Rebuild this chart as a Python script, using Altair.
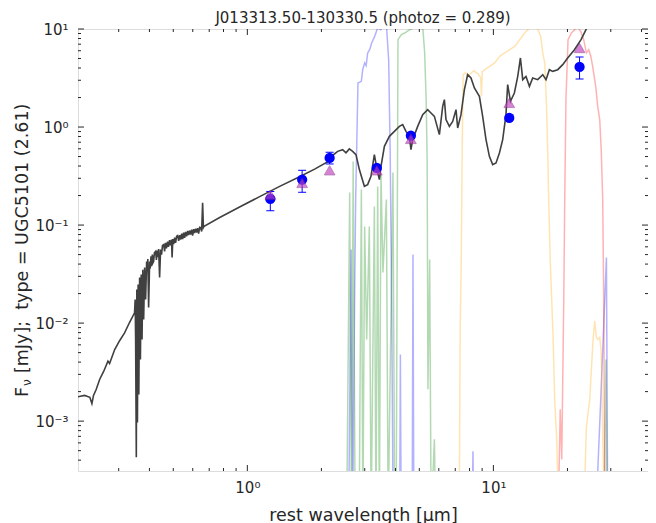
import altair as alt
import pandas as pd

# ---------------- data ----------------
title_text = "J013313.50-130330.5 (photoz = 0.289)"
x_title = "rest wavelength [μm]"
y_title_parts = ["F", "ν", "[mJy];\u00a0 type = UGC5101 (2.61)"]

# SED model template (wavelength in micron, flux in mJy)
sed_wave = [0.204, 0.218, 0.229, 0.2335, 0.237, 0.243, 0.251, 0.2606, 0.2713, 0.2755,
            0.289, 0.303, 0.317, 0.332, 0.348,
            0.35, 0.3515, 0.3538, 0.3555, 0.3575, 0.3598, 0.3622, 0.3649, 0.3676, 0.3704,
            0.3733, 0.3761, 0.379, 0.3825, 0.386, 0.3897, 0.392, 0.394, 0.397, 0.4008,
            0.403, 0.406, 0.4083, 0.411, 0.413, 0.416, 0.419, 0.4237, 0.427, 0.43,
            0.433, 0.436, 0.44, 0.444, 0.448, 0.452, 0.457, 0.461, 0.465, 0.469,
            0.474, 0.478, 0.483, 0.487, 0.492, 0.4945, 0.498, 0.502, 0.5064, 0.511,
            0.516, 0.5208, 0.526, 0.531, 0.5357, 0.541, 0.546, 0.551, 0.556, 0.561,
            0.5665, 0.572, 0.577, 0.5826, 0.588, 0.594, 0.5992, 0.605, 0.61, 0.6163,
            0.622, 0.628, 0.6339, 0.64, 0.6457, 0.652, 0.658, 0.6629, 0.6673,
            0.772, 0.930, 1.122, 1.353, 1.63, 1.877, 2.161, 2.243,
            2.328, 2.440, 2.517, 2.598, 2.679, 2.764, 2.853, 2.99, 3.083, 3.18,
            3.283, 3.365, 3.441, 3.493, 3.606, 3.778, 3.96, 4.149, 4.279, 4.413,
            4.555, 4.624, 4.698, 4.924, 5.16, 5.407, 5.577, 5.757, 6.033, 6.222,
            6.322, 6.417, 6.624, 6.834, 7.047, 7.16, 7.384, 7.623, 7.862, 8.109,
            8.372, 8.772, 9.046, 9.333, 9.632, 9.935, 10.25, 10.58, 10.91, 11.25,
            11.43, 11.73, 12.17, 12.56, 12.88, 13.16, 13.57, 14.01, 14.45, 15.14,
            15.87, 16.36, 16.89, 17.42, 18.26, 19.13, 20.04, 21.35, 22.71, 23.79, 25.1]
sed_flux = [0.00177, 0.00183, 0.00175, 0.00151, 0.00183, 0.0021, 0.00266, 0.00321, 0.00409, 0.00387,
            0.00538, 0.00665, 0.00796, 0.01014, 0.01274,
            0.0174, 0.0068, 0.000427, 0.022, 0.00097, 0.0248, 0.00187, 0.0292, 0.00426, 0.0313,
            0.0068, 0.0351, 0.0109, 0.0368, 0.0174, 0.0425, 0.033, 0.045, 0.0144, 0.0425,
            0.036, 0.048, 0.038, 0.05, 0.041, 0.0425, 0.052, 0.0537, 0.044, 0.055,
            0.047, 0.057, 0.0292, 0.0562, 0.05, 0.062, 0.0632, 0.054, 0.066, 0.058,
            0.0679, 0.06, 0.07, 0.062, 0.0711, 0.0467, 0.072, 0.064, 0.0746, 0.066,
            0.077, 0.0782, 0.069, 0.079, 0.0711, 0.082, 0.072, 0.0839, 0.074, 0.085,
            0.0766, 0.087, 0.079, 0.0879, 0.08, 0.09, 0.0782, 0.091, 0.083, 0.0921,
            0.084, 0.093, 0.0819, 0.095, 0.0943, 0.086, 0.1684, 0.0943, 0.0973,
            0.1193, 0.1526, 0.1952, 0.248, 0.3108, 0.3722, 0.4545, 0.523,
            0.565, 0.588, 0.545, 0.598, 0.565, 0.523, 0.368, 0.2486, 0.2587, 0.3144,
            0.523, 0.368, 0.291, 0.3975, 0.6356, 0.804, 0.904, 1.016, 1.058, 0.904,
            0.804, 0.588, 0.744, 1.016, 1.338, 1.504, 1.392, 1.286, 0.8366, 1.626,
            1.903, 1.19, 1.016, 1.143, 1.504, 0.979, 1.338, 2.406, 3.42, 3.166,
            2.504, 2.056, 1.286, 0.744, 0.503, 0.4137, 0.4306, 0.5445, 0.744, 1.338,
            2.705, 1.828, 2.226, 3.287, 5.063, 3.043, 3.287, 2.6, 3.166, 3.043,
            3.42, 3.043, 3.846, 3.698, 3.846, 4.326, 5.063, 6.152, 7.781, 9.838, 13.04]

# photometry (blue circles with error bars) and model photometry (triangles)
phot_wave = [1.24, 1.67, 2.16, 3.36, 4.62, 11.6, 22.4]
phot_flux = [0.185, 0.291, 0.484, 0.383, 0.817, 1.24, 4.1]
phot_lo = [0.14, 0.216, 0.42, 0.365, 0.79, 1.2, 3.09]
phot_hi = [0.22, 0.362, 0.553, 0.40, 0.845, 1.28, 5.18]
model_flux = [0.2046, 0.269, 0.362, 0.362, 0.756, 1.761, 6.40]

# filter transmission curves (scaled), values below the axis are 1e-4
w1_wave = [2.581, 2.642, 2.679, 2.731, 2.756, 2.816, 2.907, 2.943, 2.998, 3.04, 3.083, 3.141,
           3.201, 3.292, 3.386, 3.483, 3.582, 3.684, 3.753, 3.806, 3.86, 3.914, 4.159, 4.188,
           4.219, 4.677, 4.712, 4.751, 8.2, 8.26, 8.318, 26.06, 27.31, 28.8, 29.15]
w1_flux = [1e-4, 0.0562, 1e-4, 0.022, 0.182, 2.816, 2.924, 3.846, 4.503, 4.226, 5.692, 6.152,
           7.199, 8.406, 10.31, 9.838, 10.8, 10.07, 4.864, 0.588, 0.0174, 1e-4, 1e-4, 0.00479,
           1e-4, 1e-4, 0.05, 1e-4, 1e-4, 0.000494, 1e-4, 1e-4, 0.00166, 0.0467, 1e-4]
w2_wave = [2.534, 2.606, 2.650, 2.692, 2.743, 2.848, 2.907, 2.948, 2.998, 3.055, 3.132, 3.186,
           3.283, 3.333, 3.386, 3.441, 3.493, 3.558, 3.673, 3.736, 3.907, 3.97, 4.026, 4.095,
           4.227, 4.36, 4.569, 4.787, 5.016, 5.173, 5.256, 5.33, 5.38, 5.42, 5.508, 5.586,
           5.757, 5.827, 28.08, 28.69, 29.02]
w2_flux = [1e-4, 0.2145, 1e-4, 0.444, 1e-4, 1e-4, 0.23, 1e-4, 0.0965, 0.00682, 0.0965, 1e-4,
           0.1543, 1e-4, 0.2469, 1e-4, 0.327, 0.0328, 0.182, 1e-4, 0.3428, 1e-4, 1e-4, 7.78,
           8.748, 9.103, 9.838, 10.31, 10.55, 9.838, 5.732, 1.903, 0.465, 0.00211, 0.0445, 1e-4,
           0.000652, 1e-4, 1e-4, 0.00426, 1e-4]
w3_wave = [7.261, 7.328, 7.397, 7.467, 7.536, 7.715, 7.862, 8.14, 8.318, 8.636, 8.882, 8.94,
           9.008, 9.218, 9.66, 10.12, 10.61, 11.12, 11.65, 12.21, 12.79, 13.41, 14.05, 14.72,
           15.18, 15.57, 15.87, 16.17, 16.43, 16.63, 16.79, 17.02, 17.48, 17.76, 18.09, 18.43,
           23.28, 23.88, 24.64, 25.41, 25.82, 26.18, 26.55, 27.05, 27.43, 27.82, 28.34]
w3_flux = [1e-4, 0.00861, 0.0352, 0.588, 3.42, 3.585, 3.265, 3.585, 3.758, 3.503, 3.189, 2.056,
           3.67, 3.846, 4.157, 4.503, 5.257, 5.692, 6.152, 6.646, 7.781, 9.103, 10.24, 10.55,
           9.838, 8.406, 5.692, 4.503, 1.761, 0.5445, 0.1696, 0.0445, 0.0073, 0.00155, 0.000652, 1e-4,
           1e-4, 0.000883, 0.00166, 0.0068, 0.01046, 0.0073, 0.0068, 0.00713, 0.00502, 0.000652, 1e-4]
w4_wave = [18.34, 18.69, 18.96, 19.32, 19.5, 19.72, 20.11, 20.76, 21.41, 22.02, 22.64, 23.28,
           23.88, 24.4, 24.86, 25.33, 26.06, 26.55, 27.05, 27.43, 27.82, 28.08, 28.27, 28.48]
w4_flux = [1e-4, 0.00132, 0.000407, 0.0174, 0.182, 1.903, 7.78, 9.103, 9.838, 10.31, 9.452, 7.781,
           5.692, 6.152, 5.345, 4.128, 2.582, 1.614, 1.19, 0.588, 0.182, 0.0174, 0.000825, 1e-4]

bands = ["W1", "W2", "W3", "W4"]
band_colors = ["#0000ff", "#008000", "#ffa500", "#ff0000"]

x_major = [1, 10]
x_minor = [0.3, 0.4, 0.5, 0.6, 0.7, 0.8, 0.9, 2, 3, 4, 5, 6, 7, 8, 9, 20, 30, 40]
y_major = [0.001, 0.01, 0.1, 1, 10]
y_minor = [round(m * 10.0 ** e, 6) for e in (-4, -3, -2, -1, 0) for m in range(2, 10)
           if m * 10.0 ** e >= 4e-4]

# ---------------- chart ----------------
W, H = 570, 442
FONT = "DejaVu Sans"
INK = "#262626"
xs = alt.Scale(type="log", domain=[0.205, 42.5])
ys = alt.Scale(type="log", domain=[3.1e-4, 10.0])

x_axis = alt.Axis(values=x_major, labelExpr="datum.value < 5 ? '10⁰' : '10¹'",
                  ticks=False, domain=False, grid=False, labelFont=FONT, labelFontSize=15,
                  labelColor=INK, labelPadding=9, labelBaseline="top",
                  title=x_title, titleFont=FONT, titleFontSize=17.5, titleFontWeight="normal",
                  titleColor=INK, titleX=W / 2, titleY=49, titleBaseline="alphabetic",
                  titleAlign="center")
y_axis = alt.Axis(values=y_major,
                  labelExpr="datum.value < 0.005 ? '10⁻³' : datum.value < 0.05 ? '10⁻²' : "
                            "datum.value < 0.5 ? '10⁻¹' : datum.value < 5 ? '10⁰' : '10¹'",
                  ticks=False, domain=False, grid=False, labelFont=FONT, labelFontSize=15,
                  labelColor=INK, labelPadding=10, labelBaseline="middle", title="")

X = alt.X("wave:Q", scale=xs, axis=x_axis)

filt_df = pd.concat([
    pd.DataFrame({"wave": w, "flux": f, "band": b})
    for w, f, b in [(w1_wave, w1_flux, "W1"), (w2_wave, w2_flux, "W2"),
                    (w3_wave, w3_flux, "W3"), (w4_wave, w4_flux, "W4")]
], ignore_index=True)
sed_df = pd.DataFrame({"wave": sed_wave, "flux": sed_flux})
phot_df = pd.DataFrame({"wave": phot_wave, "flux": phot_flux, "lo": phot_lo,
                        "hi": phot_hi, "model": model_flux})

filters = alt.Chart(filt_df).mark_line(clip=True, strokeWidth=1.5, opacity=0.3).encode(
    x=X,
    y=alt.Y("flux:Q", scale=ys, axis=y_axis),
    color=alt.Color("band:N", scale=alt.Scale(domain=bands, range=band_colors), legend=None),
)
sed = alt.Chart(sed_df).mark_line(clip=True, strokeWidth=1.6, color="#404040").encode(
    x=X, y=alt.Y("flux:Q", scale=ys, axis=y_axis),
)
pbase = alt.Chart(phot_df)
err = pbase.mark_rule(color="#0000ff", strokeWidth=1).encode(
    x=X, y=alt.Y("lo:Q", scale=ys, axis=y_axis), y2="hi:Q")
cap_shape = "M-1,0L1,0"
cap_lo = pbase.mark_point(shape=cap_shape, size=64, filled=False, color="#0000ff",
                          strokeWidth=1, opacity=1).encode(
    x=X, y=alt.Y("lo:Q", scale=ys, axis=y_axis))
cap_hi = pbase.mark_point(shape=cap_shape, size=64, filled=False, color="#0000ff",
                          strokeWidth=1, opacity=1).encode(
    x=X, y=alt.Y("hi:Q", scale=ys, axis=y_axis))
circles = pbase.mark_circle(size=105, color="#0000ff", opacity=1).encode(
    x=X, y=alt.Y("flux:Q", scale=ys, axis=y_axis))
tris = pbase.mark_point(shape="triangle-up", size=115, filled=True, color="#c040c0",
                        opacity=0.65, stroke="#8a2a8a", strokeWidth=0.8).encode(
    x=X, y=alt.Y("model:Q", scale=ys, axis=y_axis))


def x_ticks(vals, length):
    b = alt.Chart(pd.DataFrame({"wave": vals}))
    bottom = b.mark_rule(color=INK, strokeWidth=1).encode(
        x=X, y=alt.value(H), y2=alt.value(H - length))
    top = b.mark_rule(color=INK, strokeWidth=1).encode(
        x=X, y=alt.value(0), y2=alt.value(length))
    return [bottom, top]


def y_ticks(vals, length):
    b = alt.Chart(pd.DataFrame({"flux": vals}))
    left = b.mark_rule(color=INK, strokeWidth=1).encode(
        y=alt.Y("flux:Q", scale=ys, axis=y_axis), x=alt.value(0), x2=alt.value(length))
    right = b.mark_rule(color=INK, strokeWidth=1).encode(
        y=alt.Y("flux:Q", scale=ys, axis=y_axis), x=alt.value(W), x2=alt.value(W - length))
    return [left, right]


ticks = x_ticks(x_major, 6) + x_ticks(x_minor, 3) + y_ticks(y_major, 6) + y_ticks(y_minor, 3)

# title and y-axis title (with subscript nu) as text marks
title_mark = alt.Chart(pd.DataFrame({"t": [title_text]})).mark_text(
    font=FONT, fontSize=15, color=INK, align="center", baseline="alphabetic").encode(
    text="t:N", x=alt.value(W / 2), y=alt.value(-6))
yt = alt.Chart(pd.DataFrame({"t": [y_title_parts[0]]})).mark_text(
    font=FONT, fontSize=17.5, color=INK, align="left", baseline="alphabetic", angle=270).encode(
    text="t:N", x=alt.value(-50), y=alt.value(368))
yt_sub = alt.Chart(pd.DataFrame({"t": [y_title_parts[1]]})).mark_text(
    font=FONT, fontSize=12, color=INK, align="left", baseline="alphabetic", angle=270).encode(
    text="t:N", x=alt.value(-47), y=alt.value(357))
yt_rest = alt.Chart(pd.DataFrame({"t": [y_title_parts[2]]})).mark_text(
    font=FONT, fontSize=17.5, color=INK, align="left", baseline="alphabetic", angle=270).encode(
    text="t:N", x=alt.value(-50), y=alt.value(344))

chart = alt.layer(filters, sed, err, cap_lo, cap_hi, circles, tris, *ticks,
                  title_mark, yt, yt_sub, yt_rest).properties(
    width=W, height=H,
    autosize=alt.AutoSizeParams(type="none"),
    padding={"left": 70, "top": 21, "right": 0, "bottom": 52},
).configure_view(stroke=INK, strokeWidth=1.2).configure(background="white")

chart.save("out.html", embed_options={"renderer": "svg", "actions": False})
